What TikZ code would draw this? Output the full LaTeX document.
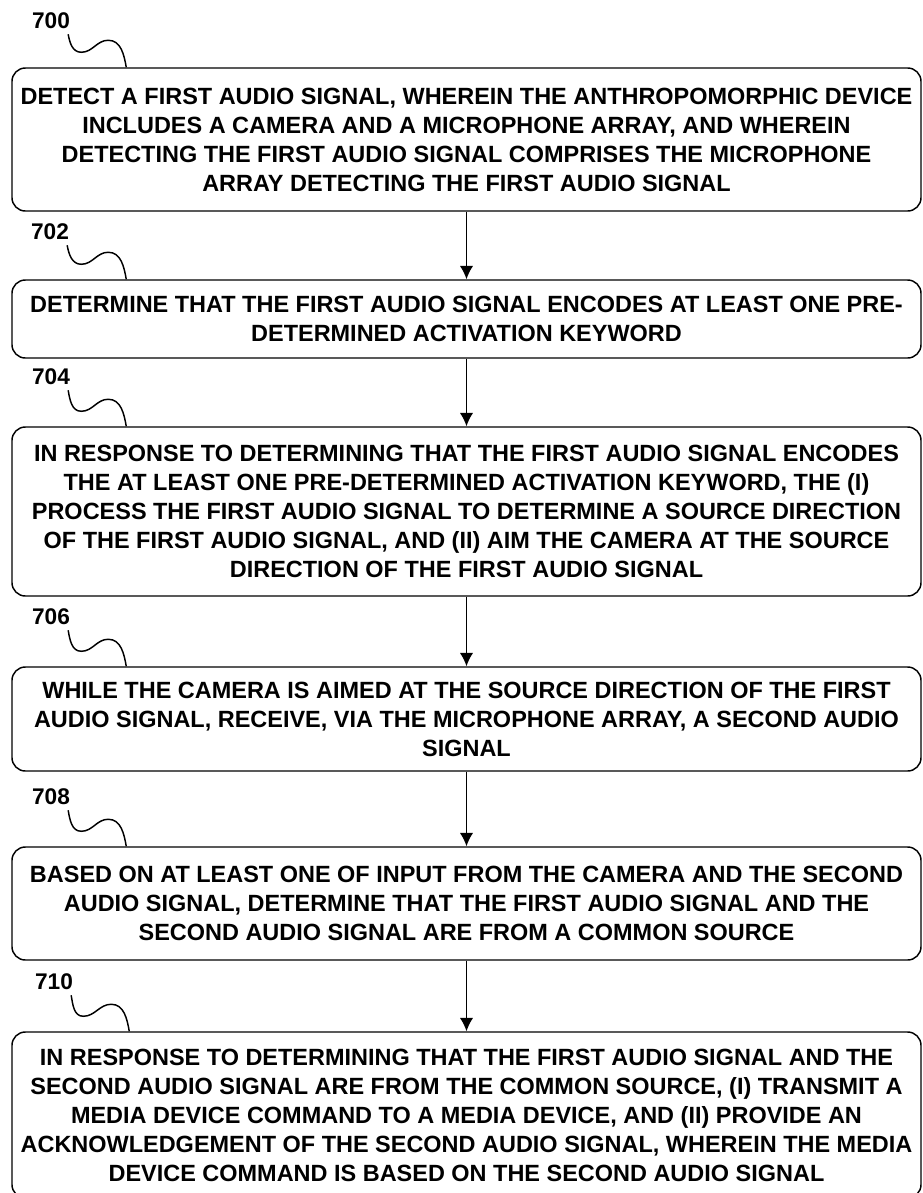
\documentclass[tikz,border=0pt]{standalone}
\usepackage{fontspec}
\setmainfont{Liberation Sans}
\usetikzlibrary{arrows.meta,calc}

\begin{document}
\begin{tikzpicture}[x=0.75pt,y=-0.75pt,
    flowBox/.style={draw,rounded corners=10pt,line width=1.1pt,minimum width=681.75pt,
        align=center,inner sep=0pt,font=\fontsize{17.6}{21.75}\selectfont\bfseries},
    flowRef/.style={inner sep=0pt,font=\fontsize{17}{19}\selectfont\bfseries},
    flowArr/.style={-{Latex[length=10pt,width=10pt]},line width=1.1pt},
    flowSq/.style={line width=1.1pt},
]
\useasboundingbox (0,0) rectangle (922,1193);
% Steps
\node[flowBox,minimum height=107.25pt] (b700) at (466.5,139.5) {DETECT A FIRST AUDIO SIGNAL, WHEREIN THE ANTHROPOMORPHIC DEVICE\\INCLUDES A CAMERA AND A MICROPHONE ARRAY, AND WHEREIN\\DETECTING THE FIRST AUDIO SIGNAL COMPRISES THE MICROPHONE\\ARRAY DETECTING THE FIRST AUDIO SIGNAL};
\node[flowBox,minimum height=58.5pt] (b702) at (466.5,319) {DETERMINE THAT THE FIRST AUDIO SIGNAL ENCODES AT LEAST ONE PRE-\\DETERMINED ACTIVATION KEYWORD};
\node[flowBox,minimum height=126.75pt] (b704) at (466.5,511.5) {IN RESPONSE TO DETERMINING THAT THE FIRST AUDIO SIGNAL ENCODES\\THE AT LEAST ONE PRE-DETERMINED ACTIVATION KEYWORD, THE (I)\\PROCESS THE FIRST AUDIO SIGNAL TO DETERMINE A SOURCE DIRECTION\\OF THE FIRST AUDIO SIGNAL, AND (II) AIM THE CAMERA AT THE SOURCE\\DIRECTION OF THE FIRST AUDIO SIGNAL};
\node[flowBox,minimum height=78pt] (b706) at (466.5,719) {WHILE THE CAMERA IS AIMED AT THE SOURCE DIRECTION OF THE FIRST\\AUDIO SIGNAL, RECEIVE, VIA THE MICROPHONE ARRAY, A SECOND AUDIO\\SIGNAL};
\node[flowBox,minimum height=84.75pt] (b708) at (466.5,903.5) {BASED ON AT LEAST ONE OF INPUT FROM THE CAMERA AND THE SECOND\\AUDIO SIGNAL, DETERMINE THAT THE FIRST AUDIO SIGNAL AND THE\\SECOND AUDIO SIGNAL ARE FROM A COMMON SOURCE};
\node[flowBox,minimum height=124.5pt] (b710) at (466.5,1115) {IN RESPONSE TO DETERMINING THAT THE FIRST AUDIO SIGNAL AND THE\\SECOND AUDIO SIGNAL ARE FROM THE COMMON SOURCE, (I) TRANSMIT A\\MEDIA DEVICE COMMAND TO A MEDIA DEVICE, AND (II) PROVIDE AN\\ACKNOWLEDGEMENT OF THE SECOND AUDIO SIGNAL, WHEREIN THE MEDIA\\DEVICE COMMAND IS BASED ON THE SECOND AUDIO SIGNAL};
% Reference numerals
\node[flowRef] (l700) at (51,21) {700};
\node[flowRef] (l702) at (50,232) {702};
\node[flowRef] (l704) at (51,377) {704};
\node[flowRef] (l706) at (51,617) {706};
\node[flowRef] (l708) at (51,797) {708};
\node[flowRef] (l710) at (54,982) {710};
% Lead lines
\draw[flowSq] ($(l700.south east)+(-2,5)$) to[out=-80,in=180] ($(b700.north west)+(70,-15)$) to[out=0,in=180] ($(b700.north west)+(97,-27)$) to[out=0,in=100] ($(b700.north west)+(115,0)$);
\draw[flowSq] ($(l702.south east)+(-2,5)$) to[out=-80,in=180] ($(b702.north west)+(70,-15)$) to[out=0,in=180] ($(b702.north west)+(97,-27)$) to[out=0,in=100] ($(b702.north west)+(115,0)$);
\draw[flowSq] ($(l704.south east)+(-2,5)$) to[out=-80,in=180] ($(b704.north west)+(70,-15)$) to[out=0,in=180] ($(b704.north west)+(97,-27)$) to[out=0,in=100] ($(b704.north west)+(115,0)$);
\draw[flowSq] ($(l706.south east)+(-2,5)$) to[out=-80,in=180] ($(b706.north west)+(70,-15)$) to[out=0,in=180] ($(b706.north west)+(97,-27)$) to[out=0,in=100] ($(b706.north west)+(115,0)$);
\draw[flowSq] ($(l708.south east)+(-2,5)$) to[out=-80,in=180] ($(b708.north west)+(70,-15)$) to[out=0,in=180] ($(b708.north west)+(97,-27)$) to[out=0,in=100] ($(b708.north west)+(115,0)$);
\draw[flowSq] ($(l710.south east)+(-2,5)$) to[out=-80,in=180] ($(b710.north west)+(72,-15)$) to[out=0,in=180] ($(b710.north west)+(100,-27)$) to[out=0,in=100] ($(b710.north west)+(118,0)$);
% Flow
\draw[flowArr] (b700.south) -- (b702.north);
\draw[flowArr] (b702.south) -- (b704.north);
\draw[flowArr] (b704.south) -- (b706.north);
\draw[flowArr] (b706.south) -- (b708.north);
\draw[flowArr] (b708.south) -- (b710.north);
\end{tikzpicture}
\end{document}
